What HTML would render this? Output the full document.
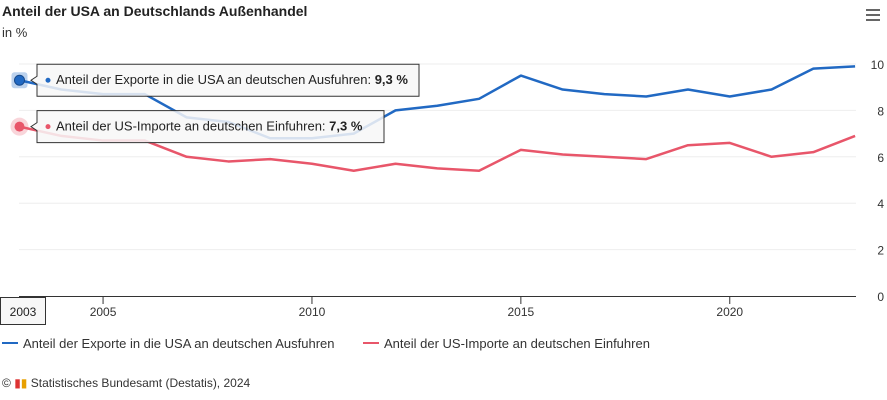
<!DOCTYPE html>
<html><head><meta charset="utf-8"><style>
body{margin:0;width:887px;height:400px;background:#fff;font-family:"Liberation Sans",sans-serif;overflow:hidden;position:relative}
.t{position:absolute;white-space:nowrap}
</style></head><body>
<div class="t" style="left:2px;top:3px;font-size:14px;font-weight:bold;color:#222">Anteil der USA an Deutschlands Außenhandel</div>
<div class="t" style="left:2px;top:25px;font-size:13px;color:#333">in %</div>
<div style="position:absolute;left:866px;top:9px;width:14px;height:12px">
<div style="height:2px;background:#666;margin-bottom:3px"></div><div style="height:2px;background:#666;margin-bottom:3px"></div><div style="height:2px;background:#666"></div></div>
<svg id="c" width="887" height="400" style="position:absolute;left:0;top:0"></svg>
<div class="t" style="left:2px;top:376px;font-size:12px;color:#333">© <span style="color:#d33">▮</span><span style="color:#e8a000">▮</span> Statistisches Bundesamt (Destatis), 2024</div>
<script>
const years=[2003,2004,2005,2006,2007,2008,2009,2010,2011,2012,2013,2014,2015,2016,2017,2018,2019,2020,2021,2022,2023];
const exportsUS=[9.3,8.9,8.7,8.7,7.7,7.5,6.8,6.8,7.0,8.0,8.2,8.5,9.5,8.9,8.7,8.6,8.9,8.6,8.9,9.8,9.9];
const importsUS=[7.3,6.9,6.7,6.7,6.0,5.8,5.9,5.7,5.4,5.7,5.5,5.4,6.3,6.1,6.0,5.9,6.5,6.6,6.0,6.2,6.9];
const yTicks=[0,2,4,6,8,10];
const xTicks=[2005,2010,2015,2020];
const NS='http://www.w3.org/2000/svg',svg=document.getElementById('c');
const x=v=>19.5+(v-2003)*41.78, y=v=>296-v*23.2;
function el(t,a,p){const e=document.createElementNS(NS,t);for(const k in a)e.setAttribute(k,a[k]);(p||svg).appendChild(e);return e;}
yTicks.forEach(v=>{
 if(v>0){const g=el('line',{x1:19,x2:856,y1:y(v),y2:y(v),stroke:'#eee','stroke-width':1});
 
 }
 const t=el('text',{x:884,y:y(v)+5,'text-anchor':'end','font-size':12,fill:'#333','font-family':'Liberation Sans'});t.textContent=v;
 
 
});
const ax=el('line',{x1:19,x2:856,y1:296.5,y2:296.5,stroke:'#333'});


xTicks.forEach(v=>{
 el('line',{x1:x(v),x2:x(v),y1:296,y2:304,stroke:'#333'});
 const t=el('text',{x:x(v),y:316,'text-anchor':'middle','font-size':12,fill:'#333','font-family':'Liberation Sans'});t.textContent=v;
 
 
});
function line(data,col,name){
 const p=el('polyline',{points:data.map((v,i)=>x(years[i])+','+y(v)).join(' '),fill:'none',stroke:col,'stroke-width':2.5,'stroke-linejoin':'round'});
 
 
}
line(exportsUS,'#2169c3','exports-line');
line(importsUS,'#e8566a','imports-line');
el('circle',{cx:x(2003),cy:y(importsUS[0]),r:9,fill:'#e8566a',opacity:0.25});
el('circle',{cx:x(2003),cy:y(importsUS[0]),r:5,fill:'#e8566a'});
el('rect',{x:x(2003)-8,y:y(exportsUS[0])-8,width:16,height:16,rx:3,fill:'#2169c3',opacity:0.3});
el('circle',{cx:x(2003),cy:y(exportsUS[0]),r:5,fill:'#2169c3',stroke:'#174a8c','stroke-width':1});
function tip(v,cy,col,label,w,name){
 const g=el('g',{});
 
 
 el('path',{d:`M37 ${cy-14} h${w} v32 h-${w} v-12 l-6 -4 l6 -4 z`,fill:'rgba(247,247,247,0.85)',stroke:'#333','stroke-width':1},g);
 el('circle',{cx:48,cy:cy+2,r:2.5,fill:col},g);
 const t=el('text',{x:56,y:cy+6,'font-size':13,fill:'#222','font-family':'Liberation Sans'},g);
 t.textContent=label;
 const b=el('tspan',{'font-weight':'bold'},t);b.textContent=v.toFixed(1).replace('.',',')+' %';
}
tip(exportsUS[0],y(exportsUS[0])-2,'#2169c3','Anteil der Exporte in die USA an deutschen Ausfuhren: ',382,'tooltip-exports');
tip(importsUS[0],y(importsUS[0])-2,'#e8566a','Anteil der US-Importe an deutschen Einfuhren: ',347,'tooltip-imports');
const lb=el('g',{});


el('rect',{x:0.5,y:297.5,width:45,height:27,fill:'#f7f7f7',stroke:'#333'},lb);
const lt=el('text',{x:23,y:316,'text-anchor':'middle','font-size':12,fill:'#222','font-family':'Liberation Sans'},lb);lt.textContent='2003';
[['#2169c3','Anteil der Exporte in die USA an deutschen Ausfuhren',2,'legend-exports'],['#e8566a','Anteil der US-Importe an deutschen Einfuhren',363,'legend-imports']].forEach(([c,t,lx,n])=>{
 const g=el('g',{});
 
 
 el('line',{x1:lx,x2:lx+16,y1:343,y2:343,stroke:c,'stroke-width':2},g);
 const tx=el('text',{x:lx+21,y:348,'font-size':13,fill:'#333','font-family':'Liberation Sans'},g);tx.textContent=t;
});
</script>
</body></html>
